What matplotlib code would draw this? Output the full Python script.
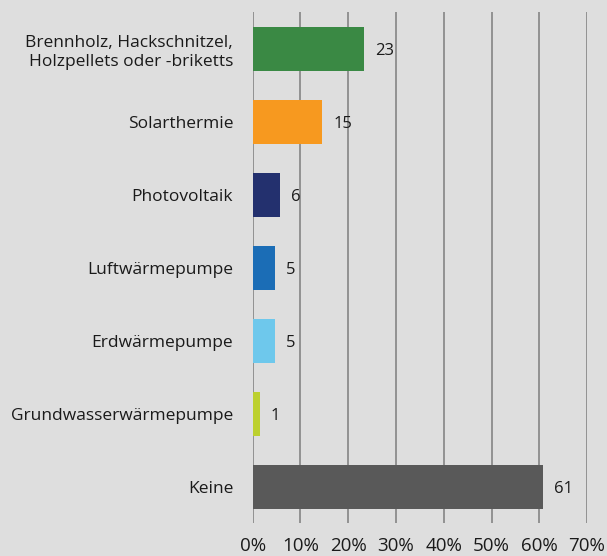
import matplotlib
matplotlib.use("Agg")
from matplotlib import pyplot as plt
from matplotlib.ticker import FuncFormatter

categories = ["Brennholz, Hackschnitzel,\nHolzpellets oder -briketts", "Solarthermie",
              "Photovoltaik", "Luftwärmepumpe", "Erdwärmepumpe",
              "Grundwasserwärmepumpe", "Keine"]
shares     = [23.3, 14.6, 5.7, 4.7, 4.7, 1.5, 60.7]
labels     = ["23", "15", "6", "5", "5", "1", "61"]
colors     = ["#3a8944", "#f7991f", "#23306e", "#1b6db6", "#6ec8ec", "#bcd02e", "#595959"]
xticks     = [0, 10, 20, 30, 40, 50, 60, 70]

BG = "#dedede"
plt.rcParams["font.family"] = ["Open Sans", "DejaVu Sans"]

fig = plt.figure(figsize=(6.07, 5.56), dpi=100, facecolor=BG)
ax  = fig.add_axes([0.4163, 0.0585, 0.5508, 0.9192], facecolor=BG)

ypos = list(range(len(categories)))
ax.barh(ypos, shares, height=0.6, color=colors, zorder=3)
for yi, v, lab in zip(ypos, shares, labels):
    ax.annotate(lab, (v, yi), xytext=(11, 0), textcoords="offset pixels",
                va="center_baseline", ha="left", fontsize=12, color="#1a1a1a")

ax.set_ylim(len(categories) - 0.5, -0.5)
ax.set_xlim(0, 70)
ax.set_yticks(ypos)
ax.set_yticklabels(categories, fontsize=12.5, color="#1a1a1a", linespacing=1.25)
ax.set_xticks(xticks)
ax.xaxis.set_major_formatter(FuncFormatter(lambda v, p: f"{v:.0f}%"))
ax.tick_params(axis="x", labelsize=13.5, length=0, pad=10, colors="#1a1a1a")
ax.tick_params(axis="y", length=0, pad=14)
ax.grid(axis="x", color="#8c8c8c", linewidth=1.3, zorder=0)
for s in ax.spines.values():
    s.set_visible(False)

fig.savefig("out.png", dpi=100, facecolor=BG)
